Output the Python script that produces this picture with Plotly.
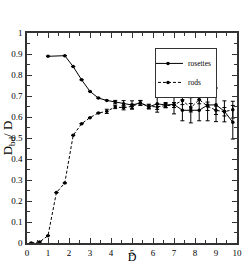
import plotly.graph_objects as go

ros_x = [1.0, 1.8, 2.2, 2.6, 3.0, 3.4, 3.8, 4.2, 4.6, 5.0, 5.4, 5.8, 6.2, 6.6, 7.0, 7.4, 7.8, 8.2, 8.6, 9.0, 9.4, 9.8]
ros_y = [0.889, 0.892, 0.840, 0.777, 0.722, 0.690, 0.679, 0.671, 0.663, 0.657, 0.667, 0.648, 0.663, 0.657, 0.660, 0.632, 0.632, 0.632, 0.657, 0.658, 0.627, 0.575]
ros_err = [0, 0, 0, 0, 0, 0, 0, 0.008, 0.015, 0.02, 0.012, 0.01, 0.04, 0.012, 0.045, 0.05, 0.06, 0.05, 0.075, 0.08, 0.05, 0.08]

rod_x = [0.2, 0.6, 1.0, 1.4, 1.8, 2.2, 2.6, 3.0, 3.4, 3.8, 4.2, 4.6, 5.0, 5.4, 5.8, 6.2, 6.6, 7.0, 7.4, 7.8, 8.2, 8.6, 9.0, 9.4, 9.8]
rod_y = [0.0, 0.005, 0.035, 0.240, 0.286, 0.513, 0.568, 0.597, 0.619, 0.627, 0.648, 0.644, 0.651, 0.667, 0.651, 0.648, 0.654, 0.657, 0.679, 0.644, 0.683, 0.651, 0.632, 0.625, 0.635]
rod_err = [0, 0, 0, 0, 0, 0, 0, 0, 0, 0.01, 0.008, 0.01, 0.01, 0.01, 0.01, 0.012, 0.01, 0.012, 0.02, 0.02, 0.02, 0.02, 0.02, 0.02, 0.04]

x_ticks = [0, 1, 2, 3, 4, 5, 6, 7, 8, 9, 10]
y_ticks = [0, 0.1, 0.2, 0.3, 0.4, 0.5, 0.6, 0.7, 0.8, 0.9, 1]
y_tick_text = ["0", "0.1", "0.2", "0.3", "0.4", "0.5", "0.6", "0.7", "0.8", "0.9", "1"]

fig = go.Figure()
fig.add_trace(go.Scatter(
    x=ros_x, y=ros_y, name="rosettes", mode="lines+markers",
    line=dict(color="black", width=1),
    marker=dict(color="black", size=3.5),
    error_y=dict(type="data", array=ros_err, color="black", thickness=1, width=2),
))
fig.add_trace(go.Scatter(
    x=rod_x, y=rod_y, name="rods", mode="lines+markers",
    line=dict(color="black", width=1, dash="3px,2px"),
    marker=dict(color="black", size=3.5),
    error_y=dict(type="data", array=rod_err, color="black", thickness=1, width=2),
))

axis_common = dict(
    showgrid=False, zeroline=False, showline=True, linecolor="#333", linewidth=1.5,
    mirror="allticks", ticks="inside", ticklen=5, tickcolor="#333", tickwidth=1,
    tickfont=dict(family="Liberation Serif", size=9, color="black"),
    automargin=False,
)
fig.update_xaxes(range=[0, 10], tickvals=x_ticks, ticktext=[str(v) for v in x_ticks],
                 minor=dict(dtick=0.5, ticks="inside", ticklen=3, tickcolor="#333"),
                 ticklabelstandoff=0,
                 title=dict(text="D", font=dict(family="Liberation Serif", size=12, color="black"), standoff=1),
                 **axis_common)
fig.update_yaxes(range=[0, 1], tickvals=y_ticks, ticktext=y_tick_text,
                 minor=dict(dtick=0.05, ticks="inside", ticklen=3, tickcolor="#333"),
                 ticklabelstandoff=1,
                 title=dict(text="D<sub>bd</sub>/ D", font=dict(family="Liberation Serif", size=13, color="black"), standoff=5),
                 **axis_common)
fig.update_layout(
    width=243, height=264,
    margin=dict(l=27, r=6, t=33, b=21),
    plot_bgcolor="white", paper_bgcolor="white",
    showlegend=True,
    legend=dict(x=0.757, y=0.929, xanchor="center", yanchor="top",
                bordercolor="#333", borderwidth=1, bgcolor="white",
                font=dict(family="Liberation Serif", size=7.5, color="black"),
                tracegroupgap=0, itemwidth=30, indentation=-8),
)
fig.write_html("out.html", config={"displayModeBar": False},
               post_script="document.body.style.margin='0';document.body.style.overflow='hidden';")
